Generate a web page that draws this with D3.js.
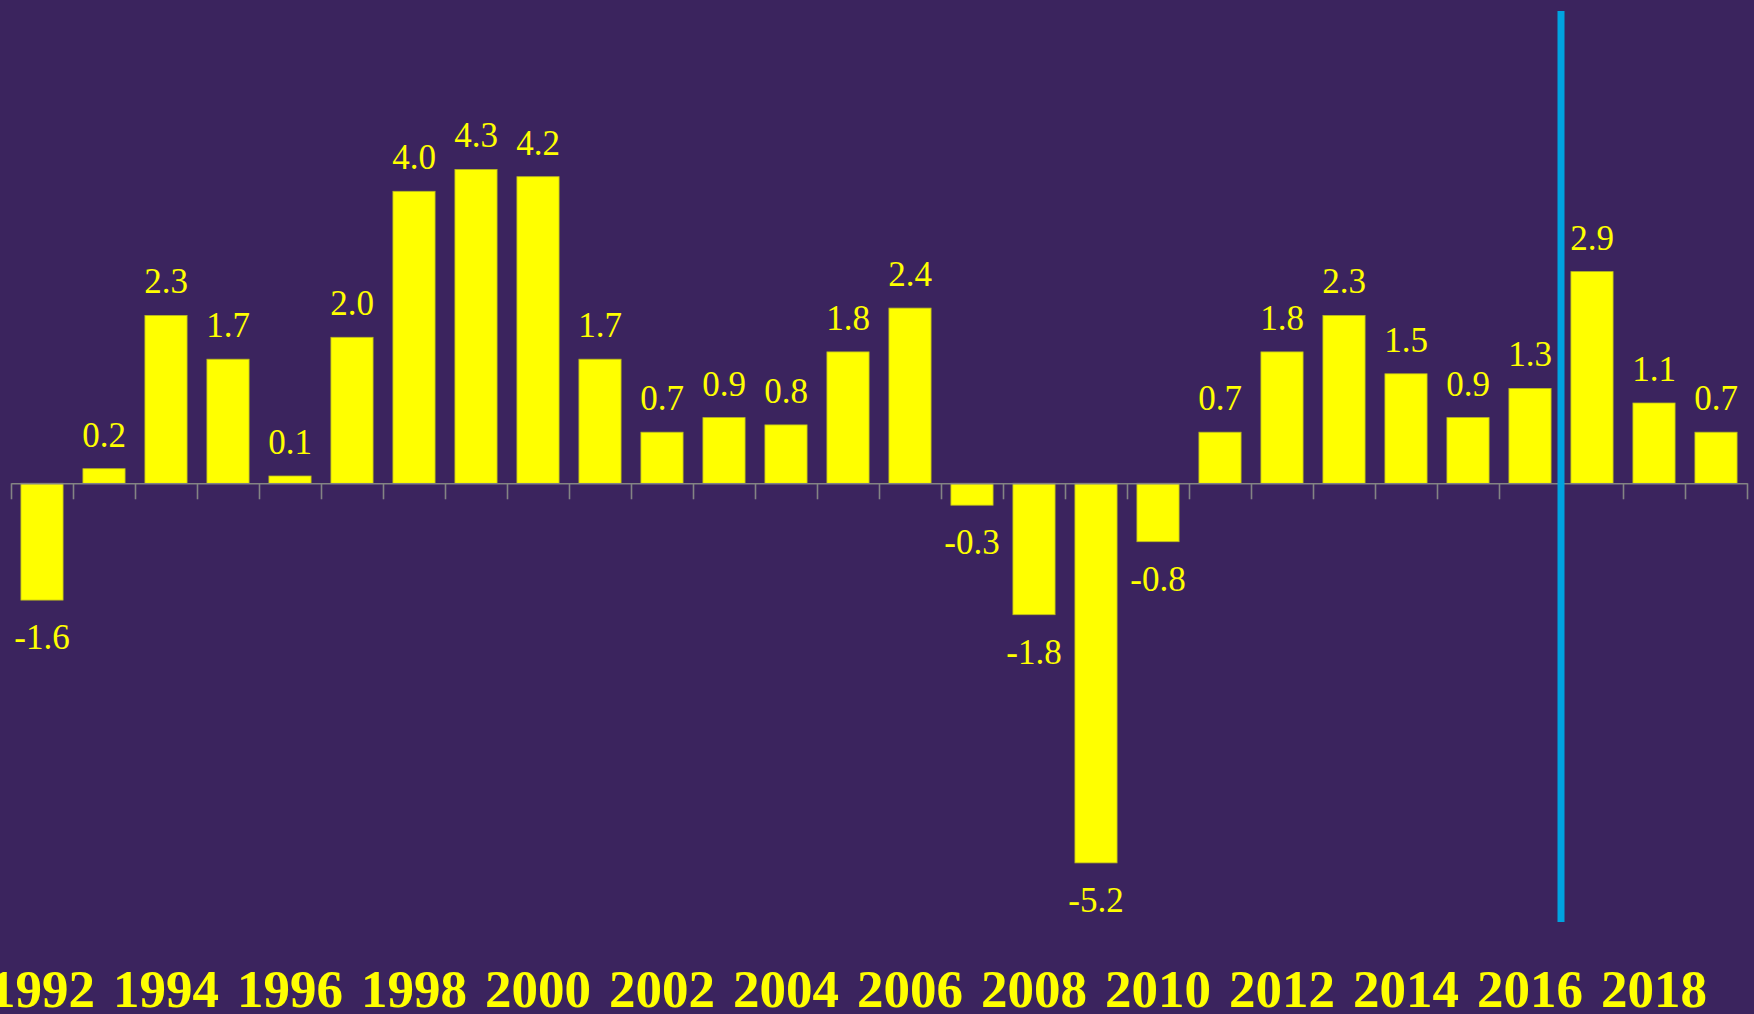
<!DOCTYPE html>
<html>
<head>
<meta charset="utf-8">
<script src="https://cdn.jsdelivr.net/npm/d3@7"></script>
<style>
  html, body { margin: 0; padding: 0; background: #3b245e; overflow: hidden; }
  svg { display: block; }
</style>
</head>
<body>
<svg id="chart" width="1754" height="1014"></svg>
<script>
const years = [1992,1993,1994,1995,1996,1997,1998,1999,2000,2001,2002,2003,2004,2005,2006,2007,2008,2009,2010,2011,2012,2013,2014,2015,2016,2017,2018,2019];
const values = [-1.6,0.2,2.3,1.7,0.1,2.0,4.0,4.3,4.2,1.7,0.7,0.9,0.8,1.8,2.4,-0.3,-1.8,-5.2,-0.8,0.7,1.8,2.3,1.5,0.9,1.3,2.9,1.1,0.7];
const valueLabels = ["-1.6","0.2","2.3","1.7","0.1","2.0","4.0","4.3","4.2","1.7","0.7","0.9","0.8","1.8","2.4","-0.3","-1.8","-5.2","-0.8","0.7","1.8","2.3","1.5","0.9","1.3","2.9","1.1","0.7"];
const yearLabels = [1992,1994,1996,1998,2000,2002,2004,2006,2008,2010,2012,2014,2016,2018];
const markerYear = 2017;

const W = 1754, H = 1014;
const left = 11, right = 1747;
const zeroY = 483.3, pxPerUnit = 73;

const svg = d3.select("#chart");
svg.append("rect").attr("width", W).attr("height", H).attr("fill", "#3b245e");

const x = d3.scaleBand().domain(years).range([left, right]).paddingInner(0.32).paddingOuter(0.16);
const y = d3.scaleLinear().domain([-6, 6]).range([zeroY + 6 * pxPerUnit, zeroY - 6 * pxPerUnit]);
const boundary = d3.scaleLinear().domain([0, years.length]).range([left, right]);

// bars
svg.append("g").selectAll("rect").data(years).join("rect")
  .attr("x", (d) => x(d))
  .attr("width", x.bandwidth())
  .attr("y", (d, i) => y(Math.max(0, values[i])))
  .attr("height", (d, i) => Math.abs(y(values[i]) - y(0)))
  .attr("fill", "#ffff00")
  .attr("stroke", "#b8b820")
  .attr("stroke-width", 0.8);

// axis with ticks at band boundaries
const axis = d3.axisBottom(boundary)
  .tickValues(d3.range(0, years.length + 1))
  .tickFormat("")
  .tickSizeInner(16)
  .tickSizeOuter(0);
const gAxis = svg.append("g").attr("transform", `translate(0,${y(0)})`).call(axis);
gAxis.select(".domain").attr("stroke", "#848484").attr("stroke-width", 1.6);
gAxis.selectAll(".tick line").attr("stroke", "#848484").attr("stroke-width", 1.6);

// value labels
svg.append("g").selectAll("text").data(years).join("text")
  .attr("x", (d) => x(d) + x.bandwidth() / 2)
  .attr("y", (d, i) => values[i] >= 0 ? y(values[i]) - 22 : y(values[i]) + 49)
  .attr("text-anchor", "middle")
  .attr("font-family", "'Liberation Serif', 'DejaVu Serif', serif")
  .attr("font-size", 35)
  .attr("fill", "#ffff00")
  .text((d, i) => valueLabels[i]);

// vertical marker line
const mx = boundary(years.indexOf(markerYear));
svg.append("line")
  .attr("x1", mx).attr("x2", mx)
  .attr("y1", 11).attr("y2", 922)
  .attr("stroke", "#00a3e0")
  .attr("stroke-width", 7);

// year labels
svg.append("g").selectAll("text").data(yearLabels).join("text")
  .attr("x", (d) => x(d) + x.bandwidth() / 2)
  .attr("y", 1007)
  .attr("text-anchor", "middle")
  .attr("font-family", "'Liberation Serif', 'DejaVu Serif', serif")
  .attr("font-weight", "bold")
  .attr("font-size", 53)
  .attr("fill", "#ffff00")
  .text((d) => d);
</script>
</body>
</html>
